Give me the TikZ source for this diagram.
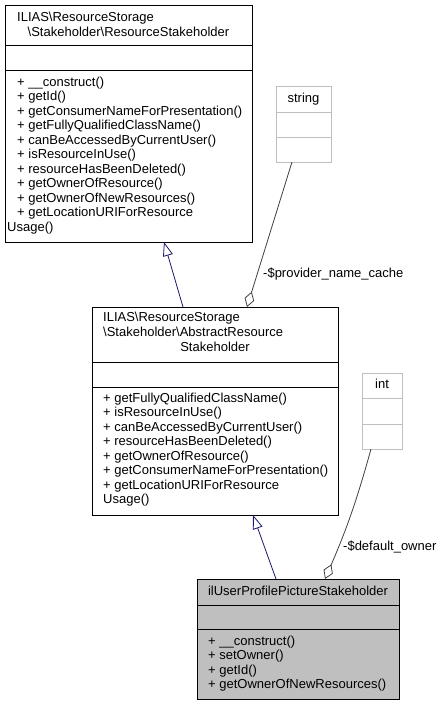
\documentclass[tikz,border=0pt]{standalone}
\usepackage{fontspec}
\setmainfont{Liberation Sans}
\usepackage{xcolor}
\usetikzlibrary{calc}
\usetikzlibrary{arrows.meta}
\definecolor{edgeblue}{HTML}{191970}
\definecolor{edgegray}{HTML}{404040}
\definecolor{boxgray}{HTML}{BFBFBF}
\tikzset{
	classbox/.style={
			draw=black, line width=0.9pt, fill=white,
			anchor=north west, inner sep=0pt, outer sep=0pt
		},
	attrbox/.style={classbox, draw=boxgray},
	member/.style={
			anchor=west, inner sep=0pt, text height=9.4pt, text depth=2.7pt,
			font=\fontsize{13}{14.5}\selectfont
		},
	inherit/.style={draw=edgeblue, line width=0.8pt,
			-{Triangle[open, length=14pt, width=10pt]}},
	usage/.style={draw=edgegray, line width=0.8pt,
			-{Diamond[open, length=16pt, width=10pt]}}
}

\begin{document}
\begin{tikzpicture}[x=1pt, y=-1pt]
	\useasboundingbox (0,0) rectangle (442,705);

	% ResourceStakeholder
	\node[classbox, minimum width=247pt, minimum height=237pt] (rs) at (5,5) {};
	\draw[line width=0.9pt] ($(rs.north west)+(0,40)$) -- ($(rs.north east)+(0,40)$);
	\draw[line width=0.9pt] ($(rs.north west)+(0,65)$) -- ($(rs.north east)+(0,65)$);
	\node[member] (rs-t1) at (17,18) {ILIAS\textbackslash ResourceStorage};
	\node[member, anchor=center] (rs-t2) at (128.5,33) {\textbackslash Stakeholder\textbackslash ResourceStakeholder};
	\foreach \m [count=\i from 0] in {+ \_\_construct(), + getId(), + getConsumerNameForPresentation(),
			+ getFullyQualifiedClassName(), + canBeAccessedByCurrentUser(), + isResourceInUse(),
			+ resourceHasBeenDeleted(), + getOwnerOfResource(), + getOwnerOfNewResources(),
			+ getLocationURIForResource}
		\node[member] (rs-m\i) at (17,{83+14.5*\i}) {\m};
	\node[member] (rs-m10) at (7,228) {Usage()};

	% string
	\node[attrbox, minimum width=55pt, minimum height=76pt] (str) at (276,86) {};
	\draw[boxgray, line width=0.9pt] ($(str.north west)+(0,26)$) -- ($(str.north east)+(0,26)$);
	\draw[boxgray, line width=0.9pt] ($(str.north west)+(0,51)$) -- ($(str.north east)+(0,51)$);
	\node[member, anchor=center] (str-t) at (303.5,99) {string};

	% AbstractResourceStakeholder
	\node[classbox, minimum width=246pt, minimum height=208pt] (ars) at (92,307) {};
	\draw[line width=0.9pt] ($(ars.north west)+(0,55)$) -- ($(ars.north east)+(0,55)$);
	\draw[line width=0.9pt] ($(ars.north west)+(0,80)$) -- ($(ars.north east)+(0,80)$);
	\node[member] (ars-t1) at (103,318) {ILIAS\textbackslash ResourceStorage};
	\node[member] (ars-t2) at (103,333) {\textbackslash Stakeholder\textbackslash AbstractResource};
	\node[member, anchor=center] (ars-t3) at (215,348) {Stakeholder};
	\foreach \m [count=\i from 0] in {+ getFullyQualifiedClassName(), + isResourceInUse(),
			+ canBeAccessedByCurrentUser(), + resourceHasBeenDeleted(), + getOwnerOfResource(),
			+ getConsumerNameForPresentation(), + getLocationURIForResource}
		\node[member] (ars-m\i) at (103,{399+14.5*\i}) {\m};
	\node[member] (ars-m7) at (103,500.5) {Usage()};

	% int
	\node[attrbox, minimum width=40pt, minimum height=76pt] (int) at (362,373) {};
	\draw[boxgray, line width=0.9pt] ($(int.north west)+(0,25)$) -- ($(int.north east)+(0,25)$);
	\draw[boxgray, line width=0.9pt] ($(int.north west)+(0,51)$) -- ($(int.north east)+(0,51)$);
	\node[member, anchor=center] (int-t) at (382,385) {int};

	% ilUserProfilePictureStakeholder
	\node[classbox, fill=boxgray, minimum width=202pt, minimum height=120pt] (upps) at (197,579) {};
	\draw[line width=0.9pt] ($(upps.north west)+(0,26)$) -- ($(upps.north east)+(0,26)$);
	\draw[line width=0.9pt] ($(upps.north west)+(0,50)$) -- ($(upps.north east)+(0,50)$);
	\node[member, anchor=center] (upps-t) at (298,592) {ilUserProfilePictureStakeholder};
	\foreach \m [count=\i from 0] in {+ \_\_construct(), + setOwner(), + getId(), + getOwnerOfNewResources()}
		\node[member] (upps-m\i) at (208,{642+14.5*\i}) {\m};

	% connectors
	\draw[inherit] ($(ars.north west)+(91,0)$) -- ($(rs.south west)+(159,0)$);
	\draw[usage] ($(str.south west)+(16,0)$) -- ($(ars.north west)+(155,0)$);
	\node[member] (prov-lbl) at (263,274) {-\$provider\_name\_cache};
	\draw[inherit] ($(upps.north west)+(79,0)$) -- ($(ars.south west)+(161,0)$);
	\draw[usage] ($(int.south west)+(9,0)$) to[bend left=4] ($(upps.north west)+(128,0)$);
	\node[member] (owner-lbl) at (343,547) {-\$default\_owner};
\end{tikzpicture}
\end{document}
